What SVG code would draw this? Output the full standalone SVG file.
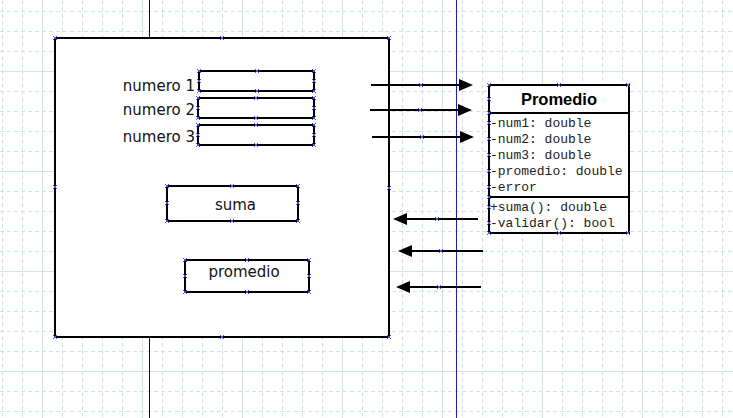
<svg xmlns="http://www.w3.org/2000/svg" xmlns:xlink="http://www.w3.org/1999/xlink" width="733" height="418" viewBox="0 0 733 418">
<style>
.minor{fill:none;stroke:#d3e1de;stroke-width:1;stroke-dasharray:4 3}
.major{fill:none;stroke:#d6e3e1;stroke-width:1}
.box{fill:#fff;stroke:#000;stroke-width:2}
.lbl{font-family:"DejaVu Sans",Verdana,sans-serif;font-size:15px;fill:#111}
.title{font-family:"Liberation Sans",Arial,sans-serif;font-weight:bold;font-size:16.5px;fill:#000}
.mono{font-family:"Liberation Mono","Courier New",monospace;font-size:13px;fill:#222}
.conn{stroke:#000;stroke-width:2;fill:none}
.hd{stroke:#4a4aff;stroke-width:1;fill:none}
</style>
<defs>
<marker id="ah" viewBox="0 0 14 12" refX="0" refY="6" markerWidth="14" markerHeight="12" markerUnits="userSpaceOnUse" orient="auto">
<path d="M0,0 L14,6 L0,12 z" fill="#000"/>
</marker>
<path id="h" class="hd" d="M-2,-2 L2,2 M-2,2 L2,-2"/>
</defs>
<rect width="733" height="418" fill="#fff"/>
<g id="grid">
<path class="minor" d="M2.5 0V418M22.5 0V418M42.5 0V418M62.5 0V418M82.5 0V418M102.5 0V418M122.5 0V418M142.5 0V418M162.5 0V418M182.5 0V418M202.5 0V418M222.5 0V418M242.5 0V418M262.5 0V418M282.5 0V418M302.5 0V418M322.5 0V418M342.5 0V418M362.5 0V418M382.5 0V418M402.5 0V418M422.5 0V418M442.5 0V418M462.5 0V418M482.5 0V418M502.5 0V418M522.5 0V418M542.5 0V418M562.5 0V418M582.5 0V418M602.5 0V418M622.5 0V418M642.5 0V418M662.5 0V418M682.5 0V418M702.5 0V418M722.5 0V418"/>
<path class="minor" d="M0 11.5H733M0 31.5H733M0 51.5H733M0 71.5H733M0 91.5H733M0 111.5H733M0 131.5H733M0 151.5H733M0 171.5H733M0 191.5H733M0 211.5H733M0 231.5H733M0 251.5H733M0 271.5H733M0 291.5H733M0 311.5H733M0 331.5H733M0 351.5H733M0 371.5H733M0 391.5H733M0 411.5H733"/>
<path class="major" d="M42.5 0V418M142.5 0V418M242.5 0V418M342.5 0V418M442.5 0V418M542.5 0V418M642.5 0V418M0 71.5H733M0 171.5H733M0 271.5H733M0 371.5H733"/>
</g>
<g id="guides">
<line x1="149.5" y1="0" x2="149.5" y2="418" stroke="#000080" stroke-width="1"/>
<line x1="456.5" y1="0" x2="456.5" y2="418" stroke="#1c1cc8" stroke-width="1"/>
</g>
<g id="form">
<rect class="box" x="55" y="38" width="334" height="299"/>
</g>
<g id="numero1">
<text class="lbl" x="195" y="91" text-anchor="end">numero 1</text>
<rect class="box" x="199" y="71" width="115" height="20"/>
</g>
<g id="numero2">
<text class="lbl" x="195" y="115" text-anchor="end">numero 2</text>
<rect class="box" x="198" y="98" width="116" height="20"/>
</g>
<g id="numero3">
<text class="lbl" x="195" y="142" text-anchor="end">numero 3</text>
<rect class="box" x="198" y="125" width="116" height="20"/>
</g>
<g id="suma">
<rect class="box" x="167" y="186" width="131" height="35"/>
<text class="lbl" x="235.5" y="210" text-anchor="middle">suma</text>
</g>
<g id="promedio">
<rect class="box" x="185" y="260" width="124" height="32"/>
<text class="lbl" x="244" y="277" text-anchor="middle">promedio</text>
</g>
<g id="class-promedio">
<rect class="box" x="489" y="85" width="140" height="148"/>
<line class="conn" x1="489" y1="113" x2="629" y2="113"/>
<line class="conn" x1="489" y1="197" x2="629" y2="197"/>
<text class="title" x="559" y="105" text-anchor="middle">Promedio</text>
<text class="mono" x="490" y="127">-num1: double</text>
<text class="mono" x="490" y="143">-num2: double</text>
<text class="mono" x="490" y="159">-num3: double</text>
<text class="mono" x="490" y="175">-promedio: double</text>
<text class="mono" x="490" y="191">-error</text>
<text class="mono" x="490" y="211">+suma(): double</text>
<text class="mono" x="490" y="227">-validar(): bool</text>
</g>
<g id="connectors">
<line class="conn" x1="371" y1="85" x2="459" y2="85" marker-end="url(#ah)"/>
<line class="conn" x1="370" y1="110" x2="458" y2="110" marker-end="url(#ah)"/>
<line class="conn" x1="372" y1="137" x2="460" y2="137" marker-end="url(#ah)"/>
<line class="conn" x1="478" y1="219" x2="407" y2="219" marker-end="url(#ah)"/>
<line class="conn" x1="483" y1="251" x2="412" y2="251" marker-end="url(#ah)"/>
<line class="conn" x1="481" y1="287" x2="410" y2="287" marker-end="url(#ah)"/>
</g>
<g id="handles">
<use xlink:href="#h" x="55" y="38"/><use xlink:href="#h" x="222" y="38"/><use xlink:href="#h" x="389" y="38"/>
<use xlink:href="#h" x="55" y="187"/><use xlink:href="#h" x="389" y="188"/>
<use xlink:href="#h" x="55" y="337"/><use xlink:href="#h" x="222" y="337"/><use xlink:href="#h" x="389" y="337"/>
<use xlink:href="#h" x="199" y="71"/><use xlink:href="#h" x="257" y="71"/><use xlink:href="#h" x="314" y="71"/>
<use xlink:href="#h" x="199" y="81"/><use xlink:href="#h" x="314" y="81"/>
<use xlink:href="#h" x="199" y="91"/><use xlink:href="#h" x="257" y="91"/><use xlink:href="#h" x="314" y="91"/>
<use xlink:href="#h" x="198" y="98"/><use xlink:href="#h" x="256" y="98"/><use xlink:href="#h" x="314" y="98"/>
<use xlink:href="#h" x="198" y="108"/><use xlink:href="#h" x="314" y="108"/>
<use xlink:href="#h" x="198" y="118"/><use xlink:href="#h" x="256" y="118"/><use xlink:href="#h" x="314" y="118"/>
<use xlink:href="#h" x="198" y="125"/><use xlink:href="#h" x="256" y="125"/><use xlink:href="#h" x="314" y="125"/>
<use xlink:href="#h" x="198" y="135"/><use xlink:href="#h" x="314" y="135"/>
<use xlink:href="#h" x="198" y="145"/><use xlink:href="#h" x="256" y="145"/><use xlink:href="#h" x="314" y="145"/>
<use xlink:href="#h" x="167" y="186"/><use xlink:href="#h" x="232" y="186"/><use xlink:href="#h" x="298" y="186"/>
<use xlink:href="#h" x="167" y="203"/><use xlink:href="#h" x="298" y="203"/>
<use xlink:href="#h" x="167" y="221"/><use xlink:href="#h" x="232" y="221"/><use xlink:href="#h" x="298" y="221"/>
<use xlink:href="#h" x="185" y="260"/><use xlink:href="#h" x="247" y="260"/><use xlink:href="#h" x="309" y="260"/>
<use xlink:href="#h" x="185" y="276"/><use xlink:href="#h" x="309" y="276"/>
<use xlink:href="#h" x="185" y="292"/><use xlink:href="#h" x="247" y="292"/><use xlink:href="#h" x="309" y="292"/>
<use xlink:href="#h" x="489" y="85"/><use xlink:href="#h" x="559" y="85"/><use xlink:href="#h" x="628" y="85"/>
<use xlink:href="#h" x="489" y="99"/><use xlink:href="#h" x="489" y="113"/><use xlink:href="#h" x="489" y="123"/>
<use xlink:href="#h" x="489" y="139"/><use xlink:href="#h" x="489" y="155"/><use xlink:href="#h" x="489" y="171"/>
<use xlink:href="#h" x="489" y="187"/><use xlink:href="#h" x="489" y="197"/><use xlink:href="#h" x="489" y="207"/>
<use xlink:href="#h" x="489" y="223"/><use xlink:href="#h" x="489" y="233"/><use xlink:href="#h" x="559" y="233"/><use xlink:href="#h" x="628" y="233"/>
<use xlink:href="#h" x="421" y="85"/><use xlink:href="#h" x="420" y="110"/><use xlink:href="#h" x="422" y="137"/>
<use xlink:href="#h" x="437" y="219"/><use xlink:href="#h" x="441" y="251"/><use xlink:href="#h" x="439" y="287"/>
</g>
</svg>
